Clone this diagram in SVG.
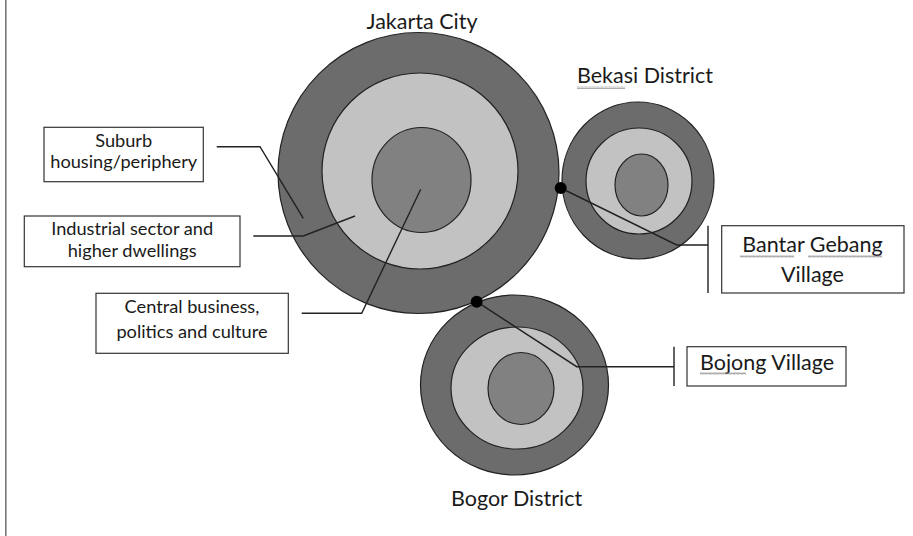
<svg xmlns="http://www.w3.org/2000/svg" width="913" height="536" viewBox="0 0 913 536">
  <defs>
    <!-- wavy spell-check underline -->
    <pattern id="squiggle" width="4" height="3" patternUnits="userSpaceOnUse">
      <polyline points="0,2.5 1,0.5 2,2.5 3,0.5 4,2.5" fill="none" stroke="#8a8a8a" stroke-width="0.7"/>
    </pattern>
  </defs>
  <style>
    .outer { fill: #6c6c6c; stroke: #222; stroke-width: 1.2; }
    .mid { fill: #c2c2c2; stroke: #222; stroke-width: 1.2; }
    .core { fill: #818181; stroke: #222; stroke-width: 1.2; }
    .box { fill: #fff; stroke: #333; stroke-width: 1.2; }
    .lbl { font-family: Lato, "Liberation Sans", sans-serif; fill: #1a1a1a; }
    .title { font-size: 21.5px; }
    .small { font-size: 18.2px; text-anchor: middle; }
    .callout { font-size: 21.5px; }
    .wire { fill: none; stroke: #222; stroke-width: 1.4; }
    .dot { fill: #000; }
  </style>

  <rect width="913" height="536" fill="#fff"/>
  <line x1="5.8" y1="0" x2="5.8" y2="536" stroke="#777" stroke-width="1.6"/>

  <!-- Jakarta City -->
  <g id="jakarta">
    <circle class="outer" cx="418.5" cy="173" r="140.5"/>
    <circle class="mid" cx="420" cy="171" r="98"/>
    <ellipse class="core" cx="421.5" cy="180" rx="49.5" ry="52.5"/>
    <text class="lbl title" x="422" y="29" text-anchor="middle">Jakarta City</text>
  </g>

  <!-- Bekasi District -->
  <g id="bekasi">
    <ellipse class="outer" cx="638" cy="180.5" rx="76" ry="78.5"/>
    <circle class="mid" cx="639" cy="181" r="53"/>
    <ellipse class="core" cx="641.5" cy="185" rx="26.5" ry="31"/>
    <text class="lbl title" x="577" y="83">Bekasi District</text>
    <rect x="577" y="86" width="48" height="3" fill="url(#squiggle)"/>
  </g>

  <!-- Bogor District -->
  <g id="bogor">
    <ellipse class="outer" cx="514.5" cy="385" rx="94" ry="90"/>
    <ellipse class="mid" cx="517" cy="388" rx="66" ry="61"/>
    <ellipse class="core" cx="521" cy="388.5" rx="33" ry="36"/>
    <text class="lbl title" x="451" y="506">Bogor District</text>
  </g>

  <!-- zone labels -->
  <g id="label-suburb">
    <rect class="box" x="44" y="127.3" width="159.3" height="54.4"/>
    <text class="lbl small" x="123.7" y="146.7">Suburb</text>
    <text class="lbl small" x="123.7" y="168.3">housing/periphery</text>
  </g>
  <g id="label-industrial">
    <rect class="box" x="24.3" y="216" width="215.7" height="50.7"/>
    <text class="lbl small" x="132.2" y="235">Industrial sector and</text>
    <text class="lbl small" x="132.2" y="256.7">higher dwellings</text>
  </g>
  <g id="label-central">
    <rect class="box" x="96" y="293.3" width="192.3" height="60"/>
    <text class="lbl small" x="192" y="313.3">Central business,</text>
    <text class="lbl small" x="192" y="338">politics and culture</text>
  </g>

  <!-- village callouts -->
  <g id="label-bantar-gebang">
    <rect class="box" x="721.7" y="225.7" width="182.3" height="67.3"/>
    <text class="lbl callout" x="812.5" y="252" text-anchor="middle">Bantar Gebang</text>
    <text class="lbl callout" x="812.5" y="282" text-anchor="middle">Village</text>
    <rect x="740" y="255" width="54" height="3" fill="url(#squiggle)"/>
    <rect x="808" y="255" width="74" height="3" fill="url(#squiggle)"/>
  </g>
  <g id="label-bojong">
    <rect class="box" x="687" y="346.7" width="159" height="39.3"/>
    <text class="lbl callout" x="700" y="370">Bojong Village</text>
    <rect x="700" y="372" width="46" height="3" fill="url(#squiggle)"/>
  </g>

  <!-- connectors -->
  <g id="connectors">
    <polyline class="wire" points="216.7,146.7 260,146.7 303.3,218.3"/>
    <polyline class="wire" points="253.3,236 303.3,236 355,216"/>
    <polyline class="wire" points="301.7,313.3 361.7,313.3 420.7,189.3"/>

    <polyline class="wire" points="560.7,188 676.7,245 708,245"/>
    <line class="wire" x1="708" y1="225.7" x2="708" y2="293"/>
    <circle class="dot" cx="560.7" cy="188" r="6"/>

    <polyline class="wire" points="476.7,301.7 576.7,366.7 674,366.7"/>
    <line class="wire" x1="674" y1="346.7" x2="674" y2="386"/>
    <circle class="dot" cx="476.7" cy="301.7" r="6"/>
  </g>
</svg>
